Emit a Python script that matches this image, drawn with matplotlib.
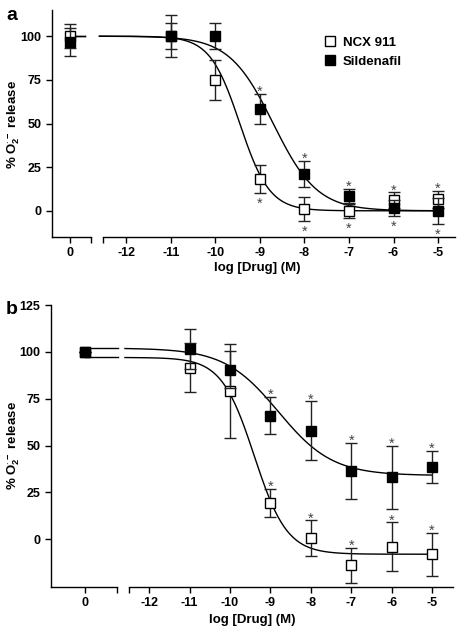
import numpy as np
import matplotlib
matplotlib.use('Agg')
import matplotlib.pyplot as plt
from matplotlib.lines import Line2D

plt.rcParams['font.family'] = ['Liberation Sans', 'DejaVu Sans']
plt.rcParams['font.weight'] = 'bold'
plt.rcParams['mathtext.fontset'] = 'custom'
plt.rcParams['mathtext.rm'] = 'Liberation Sans:bold'
plt.rcParams['mathtext.bf'] = 'Liberation Sans:bold'
plt.rcParams['mathtext.default'] = 'bf'

# x positions: control (0) and log concentrations
log_conc = [-11, -10, -9, -8, -7, -6, -5]
x_ticks = [-12, -11, -10, -9, -8, -7, -6, -5]
star_conc = [-9, -8, -7, -6, -5]

# panel a
a_ncx_ctrl, a_ncx_ctrl_err = 100, 7
a_ncx = [100, 75, 18, 1, 0, 6, 6.5]
a_ncx_err = [12, 11.5, 8, 7, 4, 4.5, 5]
a_sil_ctrl, a_sil_ctrl_err = 96.5, 8
a_sil = [100, 100, 58.5, 21, 8.5, 1.5, 0]
a_sil_err = [7.5, 7.5, 8.5, 7.5, 4, 4.5, 7.5]
# fit: top, bottom, log IC50, hill slope
a_ncx_fit = [100, 0, -9.45, 1.3]
a_sil_fit = [100, 0, -8.7, 0.88]

# panel b
b_ncx_ctrl, b_ncx_ctrl_err = 100, 0
b_ncx = [91.5, 79, 19.5, 0.5, -14, -4, -8]
b_ncx_err = [13, 25, 7.5, 9.5, 9.5, 13, 11.5]
b_sil_ctrl, b_sil_ctrl_err = 100, 0
b_sil = [101.5, 90.5, 66, 58, 36.5, 33, 38.5]
b_sil_err = [10.5, 10, 10, 15.5, 15, 17, 8.5]
b_ncx_fit = [97, -8, -9.4, 1.07]
b_sil_fit = [102, 34, -8.8, 0.65]


def sigmoid(x, p):
    top, bottom, ic50, hill = p
    return bottom + (top - bottom) / (1 + 10 ** (hill * (x - ic50)))


def draw_errs(ax, x, y, e, filled):
    ax.errorbar(x, y, yerr=e, fmt='s', ms=6.5, mfc='black' if filled else 'white',
                mec='black', mew=1, ecolor='#222222', elinewidth=1, capsize=4.3,
                capthick=1, zorder=4 if filled else 3, clip_on=False)


def style_axes(ax_l, ax_r, ylim, yticks, xl, xr):
    for ax in (ax_l, ax_r):
        ax.spines['top'].set_visible(False)
        ax.spines['right'].set_visible(False)
        ax.set_ylim(*ylim)
        ax.tick_params(direction='out', length=4, width=1, labelsize=9)
        for s in ax.spines.values():
            s.set_linewidth(1)
    ax_l.set_yticks(yticks)
    ax_l.set_xlim(*xl)
    ax_l.set_xticks([0, xl[1]], ['0', ''])
    ax_r.spines['left'].set_visible(False)
    ax_r.tick_params(axis='y', left=False, labelleft=False)
    ax_r.set_xlim(*xr)
    ax_r.set_xticks([xr[0]] + x_ticks, [''] + [str(t) for t in x_ticks])


def star(ax, x, y, above):
    dy = -1.5 if above else -10.5
    ax.annotate('*', (x, y), xytext=(0, dy), textcoords='offset points',
                ha='center', va='baseline', fontsize=10.5, color='#444444',
                fontweight='normal', annotation_clip=False)


fig = plt.figure(figsize=(4.62, 6.28), dpi=100)

# ---- panel a ----
axa_l = fig.add_axes([52 / 462, 1 - 237 / 628, 39 / 462, 227 / 628])
axa_r = fig.add_axes([103 / 462, 1 - 237 / 628, 352 / 462, 227 / 628])
style_axes(axa_l, axa_r, (-15, 115), [0, 25, 50, 75, 100], (-0.40, 0.47), (-12.52, -4.62))

xs = np.linspace(-12.6, -5, 300)
for p in (a_ncx_fit, a_sil_fit):
    axa_r.plot(xs, sigmoid(xs, p), color='black', lw=1, clip_on=False, zorder=2)
    axa_l.plot([0, 0.33], [p[0], p[0]], color='black', lw=1, zorder=2)

draw_errs(axa_l, [0], [a_ncx_ctrl], [a_ncx_ctrl_err], False)
draw_errs(axa_l, [0], [a_sil_ctrl], [a_sil_ctrl_err], True)
draw_errs(axa_r, log_conc, a_ncx, a_ncx_err, False)
draw_errs(axa_r, log_conc, a_sil, a_sil_err, True)

for xc in star_conc:
    i = log_conc.index(xc)
    tops = max(a_ncx[i] + a_ncx_err[i], a_sil[i] + a_sil_err[i])
    bots = min(a_ncx[i] - a_ncx_err[i], a_sil[i] - a_sil_err[i])
    star(axa_r, xc, tops, True)
    star(axa_r, xc, bots, False)

handles = [Line2D([], [], ls='none', marker='s', ms=7, mfc='white', mec='black', mew=1),
           Line2D([], [], ls='none', marker='s', ms=7, mfc='black', mec='black', mew=1)]
fig.legend(handles, ['NCX 911', 'Sildenafil'], loc='upper left',
           bbox_to_anchor=(318 / 462, 1 - 30 / 628), frameon=False, fontsize=9.5,
           handlelength=0.8, handletextpad=0.6, labelspacing=0.5, borderpad=0)

fig.text(14 / 462, 1 - 125 / 628, r'% O$_2^{\cdot -}$ release', rotation=90,
         ha='center', va='center', fontsize=9.5, fontweight='bold')
fig.text(257 / 462, 1 - 268 / 628, 'log [Drug] (M)', ha='center', va='center',
         fontsize=9.5, fontweight='bold')
fig.text(12 / 462, 1 - 15 / 628, 'a', ha='center', va='center', fontsize=14, fontweight='bold')

# ---- panel b ----
axb_l = fig.add_axes([51 / 462, 1 - 587 / 628, 66 / 462, 282 / 628])
axb_r = fig.add_axes([129 / 462, 1 - 587 / 628, 324 / 462, 282 / 628])
style_axes(axb_l, axb_r, (-25.5, 125), [0, 25, 50, 75, 100, 125], (-0.84, 0.79), (-12.5, -4.48))

for p in (b_ncx_fit, b_sil_fit):
    axb_r.plot(xs, sigmoid(xs, p), color='black', lw=1, clip_on=False, zorder=2)
    axb_l.plot([0, 0.82], [p[0], p[0]], color='black', lw=1, zorder=2, clip_on=False)

draw_errs(axb_l, [0], [b_ncx_ctrl], [b_ncx_ctrl_err], False)
draw_errs(axb_l, [0], [b_sil_ctrl], [b_sil_ctrl_err], True)
draw_errs(axb_r, log_conc, b_ncx, b_ncx_err, False)
draw_errs(axb_r, log_conc, b_sil, b_sil_err, True)

for xc in star_conc:
    i = log_conc.index(xc)
    star(axb_r, xc, b_ncx[i] + b_ncx_err[i], True)
    star(axb_r, xc, b_sil[i] + b_sil_err[i], True)

fig.text(14 / 462, 1 - 446 / 628, r'% O$_2^{\cdot -}$ release', rotation=90,
         ha='center', va='center', fontsize=9.5, fontweight='bold')
fig.text(252 / 462, 1 - 620 / 628, 'log [Drug] (M)', ha='center', va='center',
         fontsize=9.5, fontweight='bold')
fig.text(12 / 462, 1 - 310 / 628, 'b', ha='center', va='center', fontsize=14, fontweight='bold')

fig.savefig('out.png', dpi=100)
